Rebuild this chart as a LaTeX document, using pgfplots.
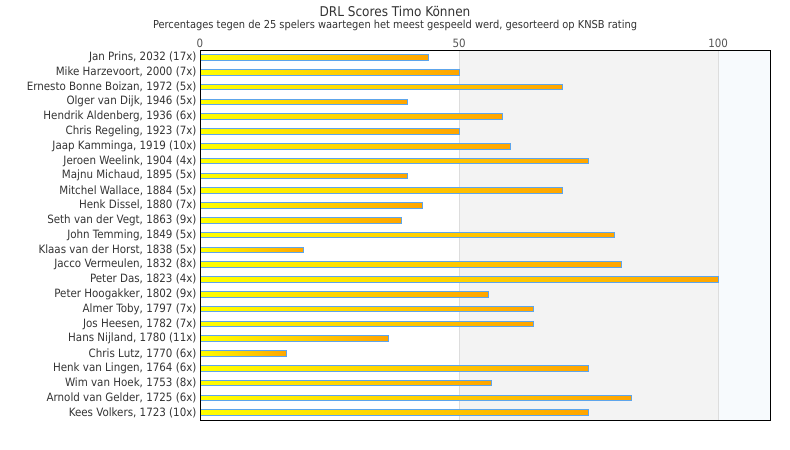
\documentclass[border=0pt]{standalone}
\usepackage{pgfplots}
\pgfplotsset{compat=1.18}
\usepackage{fontspec}
\setmainfont{DejaVu Sans Condensed}
\definecolor{lbl}{HTML}{333333}
\definecolor{tick}{HTML}{555555}
\definecolor{band}{HTML}{F3F3F3}
\definecolor{band2}{HTML}{F7FAFD}
\definecolor{gridc}{HTML}{DDDDDD}
\definecolor{barline}{HTML}{5DA5EC}
\definecolor{ylw}{HTML}{FFFF00}
\definecolor{org}{HTML}{FFA500}
\pgfplotsset{gbar/.style={xbar, bar shift=0pt, bar width=5.6bp, draw=barline, line width=0.9bp, left color=ylw, right color=org, forget plot}}
\begin{document}
\begin{tikzpicture}
\useasboundingbox (0bp,0bp) rectangle (790bp,450bp);
\node[text=lbl,font=\fontsize{13.5}{15}\selectfont] at (395bp,439bp) {DRL Scores Timo Können};
\node[text=lbl,font=\fontsize{11}{13}\selectfont] at (395bp,425bp) {Percentages tegen de 25 spelers waartegen het meest gespeeld werd, gesorteerd op KNSB rating};
\begin{axis}[
  at={(200bp,30bp)}, anchor=south west,
  scale only axis, width=570bp, height=370bp,
  xmin=0, xmax=110, ymin=-0.5, ymax=24.5,
  y dir=reverse,
  axis on top,
  axis line style={black, line width=1bp},
  xtick={0,50,100},
  xticklabel pos=upper,
  major tick length=0pt,
  xticklabel style={text=tick, font=\fontsize{11.5}{13}\selectfont, yshift=-1bp},
  ytick={0,...,24},
  yticklabels={
    {Jan Prins, 2032 (17x)},
    {Mike Harzevoort, 2000 (7x)},
    {Ernesto Bonne Boizan, 1972 (5x)},
    {Olger van Dijk, 1946 (5x)},
    {Hendrik Aldenberg, 1936 (6x)},
    {Chris Regeling, 1923 (7x)},
    {Jaap Kamminga, 1919 (10x)},
    {Jeroen Weelink, 1904 (4x)},
    {Majnu Michaud, 1895 (5x)},
    {Mitchel Wallace, 1884 (5x)},
    {Henk Dissel, 1880 (7x)},
    {Seth van der Vegt, 1863 (9x)},
    {John Temming, 1849 (5x)},
    {Klaas van der Horst, 1838 (5x)},
    {Jacco Vermeulen, 1832 (8x)},
    {Peter Das, 1823 (4x)},
    {Peter Hoogakker, 1802 (9x)},
    {Almer Toby, 1797 (7x)},
    {Jos Heesen, 1782 (7x)},
    {Hans Nijland, 1780 (11x)},
    {Chris Lutz, 1770 (6x)},
    {Henk van Lingen, 1764 (6x)},
    {Wim van Hoek, 1753 (8x)},
    {Arnold van Gelder, 1725 (6x)},
    {Kees Volkers, 1723 (10x)}},
  yticklabel style={text=lbl, font=\fontsize{11.5}{13}\selectfont, xshift=0bp},
  /pgf/number format/assume math mode=true,
]
\fill[band] (axis cs:50,-0.5) rectangle (axis cs:100,24.5);
\fill[band2] (axis cs:100,-0.5) rectangle (axis cs:110,24.5);
\draw[gridc, line width=0.8bp] (axis cs:50,-0.5) -- (axis cs:50,24.5);
\draw[gridc, line width=0.8bp] (axis cs:100,-0.5) -- (axis cs:100,24.5);
\addplot[gbar] coordinates {(44.1,0)};
\addplot[gbar] coordinates {(50,1)};
\addplot[gbar] coordinates {(70,2)};
\addplot[gbar] coordinates {(40,3)};
\addplot[gbar] coordinates {(58.3,4)};
\addplot[gbar] coordinates {(50,5)};
\addplot[gbar] coordinates {(60,6)};
\addplot[gbar] coordinates {(75,7)};
\addplot[gbar] coordinates {(40,8)};
\addplot[gbar] coordinates {(70,9)};
\addplot[gbar] coordinates {(42.9,10)};
\addplot[gbar] coordinates {(38.9,11)};
\addplot[gbar] coordinates {(80,12)};
\addplot[gbar] coordinates {(20,13)};
\addplot[gbar] coordinates {(81.25,14)};
\addplot[gbar] coordinates {(100,15)};
\addplot[gbar] coordinates {(55.6,16)};
\addplot[gbar] coordinates {(64.3,17)};
\addplot[gbar] coordinates {(64.3,18)};
\addplot[gbar] coordinates {(36.4,19)};
\addplot[gbar] coordinates {(16.7,20)};
\addplot[gbar] coordinates {(75,21)};
\addplot[gbar] coordinates {(56.25,22)};
\addplot[gbar] coordinates {(83.3,23)};
\addplot[gbar] coordinates {(75,24)};
\end{axis}
\end{tikzpicture}
\end{document}
